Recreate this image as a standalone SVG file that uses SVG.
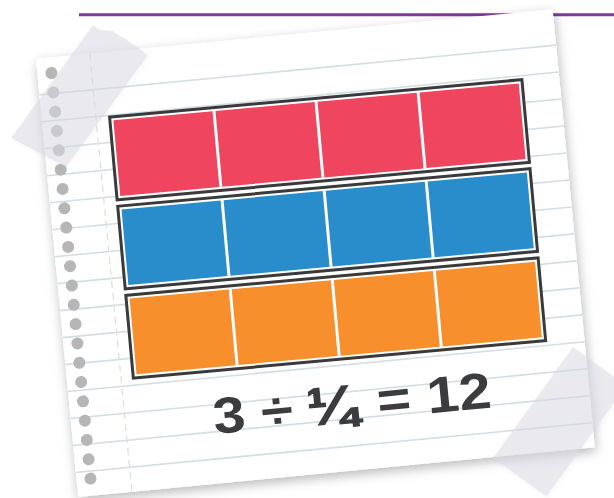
<svg xmlns="http://www.w3.org/2000/svg" width="614" height="498" viewBox="0 0 614 498">
  <defs>
    <filter id="shadow" x="-10%" y="-10%" width="120%" height="125%">
      <feGaussianBlur in="SourceAlpha" stdDeviation="6"/>
      <feOffset dx="1" dy="4" result="b"/>
      <feFlood flood-color="#000" flood-opacity="0.28"/>
      <feComposite in2="b" operator="in"/>
      <feMerge><feMergeNode/><feMergeNode in="SourceGraphic"/></feMerge>
    </filter>
    <filter id="tshadow" x="-20%" y="-20%" width="140%" height="140%">
      <feGaussianBlur in="SourceAlpha" stdDeviation="2"/>
      <feOffset dx="1" dy="2" result="b"/>
      <feFlood flood-color="#000" flood-opacity="0.05"/>
      <feComposite in2="b" operator="in"/>
      <feMerge><feMergeNode/><feMergeNode in="SourceGraphic"/></feMerge>
    </filter>
  </defs>
  <style>
    .rule { stroke: #d2dee2; stroke-width: 1.6; fill: none; }
    .hole { fill: #b6b6b6; }
    .margin { stroke: #e4ddd2; stroke-width: 1.2; stroke-dasharray: 7 5; fill: none; }
    .frame { fill: #ffffff; stroke: #3a3a3c; stroke-width: 3; }
    .red { fill: #ef455f; }
    .blue { fill: #2a8dcb; }
    .orange { fill: #f78f2c; }
    .tape { fill: #d9dae4; opacity: 0.56; }
    .eq { font-family: "Liberation Sans", Arial, sans-serif; font-weight: bold; font-size: 51px; fill: #3c3c3f; }
    .frac { font-size: 53px; stroke: #3c3c3f; stroke-width: 1.3; }
  </style>

  <rect width="614" height="498" fill="#ffffff"/>
  <line x1="79" y1="14.7" x2="614" y2="14.7" stroke="#7e3a96" stroke-width="3"/>

  <g id="paper" transform="translate(36 59) rotate(-5.5)">
    <rect x="0" y="0" width="519" height="440" fill="#ffffff" filter="url(#shadow)"/>
    <g id="rules">
      <line class="rule" x1="0" y1="36" x2="519" y2="36"/>
      <line class="rule" x1="0" y1="63.1" x2="519" y2="63.1"/>
      <line class="rule" x1="0" y1="90.2" x2="519" y2="90.2"/>
      <line class="rule" x1="0" y1="117.3" x2="519" y2="117.3"/>
      <line class="rule" x1="0" y1="144.4" x2="519" y2="144.4"/>
      <line class="rule" x1="0" y1="171.5" x2="519" y2="171.5"/>
      <line class="rule" x1="0" y1="198.6" x2="519" y2="198.6"/>
      <line class="rule" x1="0" y1="225.7" x2="519" y2="225.7"/>
      <line class="rule" x1="0" y1="252.8" x2="519" y2="252.8"/>
      <line class="rule" x1="0" y1="279.9" x2="519" y2="279.9"/>
      <line class="rule" x1="0" y1="307" x2="519" y2="307"/>
      <line class="rule" x1="0" y1="334.1" x2="519" y2="334.1"/>
      <line class="rule" x1="0" y1="361.2" x2="519" y2="361.2"/>
      <line class="rule" x1="0" y1="388.3" x2="519" y2="388.3"/>
      <line class="rule" x1="0" y1="415.4" x2="519" y2="415.4"/>
    </g>
    <line class="margin" x1="54" y1="0" x2="54" y2="440"/>
    <g id="holes">
      <circle class="hole" cx="14" cy="15.5" r="6"/>
      <circle class="hole" cx="14" cy="34.9" r="6"/>
      <circle class="hole" cx="14" cy="54.3" r="6"/>
      <circle class="hole" cx="14" cy="73.7" r="6"/>
      <circle class="hole" cx="14" cy="93.1" r="6"/>
      <circle class="hole" cx="14" cy="112.5" r="6"/>
      <circle class="hole" cx="14" cy="131.9" r="6"/>
      <circle class="hole" cx="14" cy="151.3" r="6"/>
      <circle class="hole" cx="14" cy="170.7" r="6"/>
      <circle class="hole" cx="14" cy="190.1" r="6"/>
      <circle class="hole" cx="14" cy="209.5" r="6"/>
      <circle class="hole" cx="14" cy="228.9" r="6"/>
      <circle class="hole" cx="14" cy="248.3" r="6"/>
      <circle class="hole" cx="14" cy="267.7" r="6"/>
      <circle class="hole" cx="14" cy="287.1" r="6"/>
      <circle class="hole" cx="14" cy="306.5" r="6"/>
      <circle class="hole" cx="14" cy="325.9" r="6"/>
      <circle class="hole" cx="14" cy="345.3" r="6"/>
      <circle class="hole" cx="14" cy="364.7" r="6"/>
      <circle class="hole" cx="14" cy="384.1" r="6"/>
      <circle class="hole" cx="14" cy="403.5" r="6"/>
      <circle class="hole" cx="14" cy="422.9" r="6"/>
    </g>

    <g id="bars" transform="rotate(0.3 274 197)">
      <g id="bar-red">
        <rect class="frame" x="67" y="66" width="414" height="83"/>
        <rect class="red" x="70.5" y="69.5" width="99.5" height="76"/>
        <rect class="red" x="173" y="69.5" width="99.5" height="76"/>
        <rect class="red" x="275.5" y="69.5" width="99.5" height="76"/>
        <rect class="red" x="378" y="69.5" width="99.5" height="76"/>
      </g>
      <g id="bar-blue">
        <rect class="frame" x="67" y="155.5" width="414" height="83"/>
        <rect class="blue" x="70.5" y="159" width="99.5" height="76"/>
        <rect class="blue" x="173" y="159" width="99.5" height="76"/>
        <rect class="blue" x="275.5" y="159" width="99.5" height="76"/>
        <rect class="blue" x="378" y="159" width="99.5" height="76"/>
      </g>
      <g id="bar-orange">
        <rect class="frame" x="67" y="245" width="414" height="83"/>
        <rect class="orange" x="70.5" y="248.5" width="99.5" height="76"/>
        <rect class="orange" x="173" y="248.5" width="99.5" height="76"/>
        <rect class="orange" x="275.5" y="248.5" width="99.5" height="76"/>
        <rect class="orange" x="378" y="248.5" width="99.5" height="76"/>
      </g>
    </g>

    <g id="equation">
      <text class="eq" transform="translate(142 390.5) scale(1.135 1)"><tspan x="0" y="0">3 ÷ </tspan><tspan class="frac" x="83" y="1">¼</tspan><tspan x="131" y="0"> = 12</tspan></text>
    </g>
  </g>

  <g id="tape-top-left" filter="url(#tshadow)">
    <polygon class="tape" points="93,25 100,30 113,31 115,33 127,40 148,55 66,167 11,138"/>
  </g>
  <g id="tape-bottom-right" filter="url(#tshadow)">
    <polygon class="tape" points="573,347 626.5,385.6 546.5,496.6 493,458"/>
  </g>
</svg>
